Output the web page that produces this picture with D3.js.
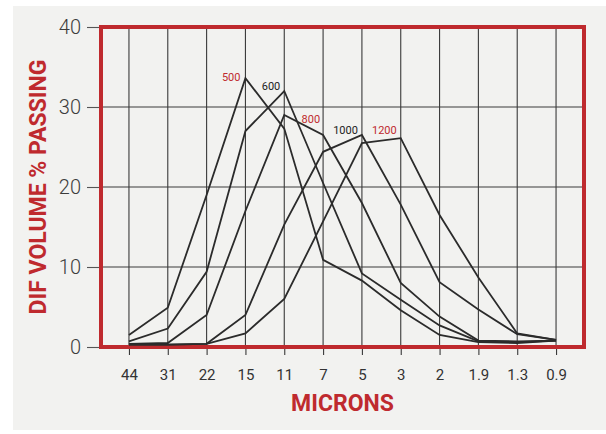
<!DOCTYPE html>
<html>
<head>
<meta charset="utf-8">
<script src="https://cdn.jsdelivr.net/npm/d3@7/dist/d3.min.js"></script>
<style>
  html, body { margin: 0; padding: 0; background: #ffffff; }
  svg { display: block; }
</style>
</head>
<body>
<svg id="chart" width="606" height="434"></svg>
<script>
// ---- data ----
const categories = ["44", "31", "22", "15", "11", "7", "5", "3", "2", "1.9", "1.3", "0.9"];
const seriesNames = ["500", "600", "800", "1000", "1200"];
const values500  = [1.5, 4.9, 19.0, 33.6, 27.3, 10.9, 8.3, 4.6, 1.5, 0.6, 0.5, 0.8];
const values600  = [0.7, 2.3, 9.4, 27.0, 32.0, 20.5, 9.2, 5.9, 2.7, 0.7, 0.6, 0.8];
const values800  = [0.4, 0.5, 4.0, 17.0, 29.0, 26.5, 18.0, 8.0, 3.8, 0.8, 0.7, 0.8];
const values1000 = [0.3, 0.3, 0.4, 4.0, 15.3, 24.4, 26.5, 17.8, 8.1, 4.7, 1.6, 0.9];
const values1200 = [0.3, 0.3, 0.4, 1.7, 6.0, 15.7, 25.5, 26.1, 16.5, 8.7, 1.7, 0.9];
const yTicks = [0, 10, 20, 30, 40];
// category at which each series label sits
const labelAt = ["15", "11", "7", "5", "3"];
const xTitle = "MICRONS";
const yTitle = "DIF VOLUME % PASSING";

const series = [values500, values600, values800, values1000, values1200];

// ---- layout ----
const svg = d3.select("#chart");
const W = 606, H = 434;
const frame = { left: 101, right: 584, top: 27, bottom: 347 };
const RED = "#bf2a2e";
const INK = "#2b2b2b";

svg.append("rect").attr("x", 0).attr("y", 0).attr("width", W).attr("height", H).attr("fill", "#ffffff");
svg.append("rect").attr("x", 13).attr("y", 6).attr("width", W - 13).attr("height", 424).attr("fill", "#f2f2f0");

const x = d3.scalePoint().domain(categories).range([frame.left, frame.right]).padding(0.72);
const y = d3.scaleLinear().domain([0, 40]).range([frame.bottom, frame.top]);

// horizontal grid
svg.append("g").selectAll("line").data(yTicks).join("line")
  .attr("x1", frame.left).attr("x2", frame.right)
  .attr("y1", d => y(d)).attr("y2", d => y(d))
  .attr("stroke", "#3a3a3a").attr("stroke-width", 1.1);

// vertical grid
svg.append("g").selectAll("line").data(categories).join("line")
  .attr("x1", d => x(d)).attr("x2", d => x(d))
  .attr("y1", frame.top).attr("y2", frame.bottom)
  .attr("stroke", "#3a3a3a").attr("stroke-width", 1.1);

// y axis
const yAxis = svg.append("g")
  .attr("transform", `translate(${frame.left},0)`)
  .call(d3.axisLeft(y).tickValues(yTicks).tickSize(14).tickPadding(6));
yAxis.select(".domain").remove();
yAxis.selectAll(".tick line").attr("stroke", "#555").attr("stroke-width", 1.1);
yAxis.selectAll(".tick text")
  .attr("fill", "#3c3c3c").style("font-family", "Roboto, sans-serif")
  .style("font-weight", 300).style("font-size", "20px");

// x axis
const xAxis = svg.append("g")
  .attr("transform", `translate(0,${frame.bottom})`)
  .call(d3.axisBottom(x).tickSize(8).tickPadding(14));
xAxis.select(".domain").remove();
xAxis.selectAll(".tick line").attr("stroke", "#3a3a3a").attr("stroke-width", 1.1);
xAxis.selectAll(".tick text")
  .attr("fill", "#333").style("font-family", "Roboto, sans-serif")
  .style("font-weight", 400).style("font-size", "15px");

// red frame
svg.append("rect")
  .attr("x", frame.left).attr("y", frame.top)
  .attr("width", frame.right - frame.left).attr("height", frame.bottom - frame.top)
  .attr("fill", "none").attr("stroke", RED).attr("stroke-width", 4);

// curves
const line = d3.line().x((d, i) => x(categories[i])).y(d => y(d));
svg.append("g").selectAll("path").data(series).join("path")
  .attr("d", d => line(d))
  .attr("fill", "none").attr("stroke", INK).attr("stroke-width", 1.8)
  .attr("stroke-linejoin", "miter");

// curve labels
const labelStyle = [
  { color: RED, dx: -5, dy: 3 },
  { color: "#222", dx: -4, dy: -1 },
  { color: RED, dx: -3, dy: -12 },
  { color: "#222", dx: -4, dy: -1.5 },
  { color: RED, dx: -4, dy: -4 }
];
svg.append("g").selectAll("text").data(seriesNames).join("text")
  .attr("x", (d, i) => x(labelAt[i]) + labelStyle[i].dx)
  .attr("y", (d, i) => y(series[i][categories.indexOf(labelAt[i])]) + labelStyle[i].dy)
  .attr("text-anchor", "end")
  .attr("fill", (d, i) => labelStyle[i].color)
  .style("font-family", "Roboto, sans-serif").style("font-size", "11px")
  .text(d => d);

// titles
svg.append("text")
  .attr("x", (frame.left + frame.right) / 2).attr("y", 411)
  .attr("text-anchor", "middle").attr("fill", RED)
  .style("font-family", "Roboto, sans-serif").style("font-weight", 700).style("font-size", "23px")
  .text(xTitle);

svg.append("text")
  .attr("transform", `translate(46,${(frame.top + frame.bottom) / 2}) rotate(-90)`)
  .attr("text-anchor", "middle").attr("fill", RED)
  .style("font-family", "Roboto, sans-serif").style("font-weight", 700).style("font-size", "23px")
  .text(yTitle);
</script>
</body>
</html>
